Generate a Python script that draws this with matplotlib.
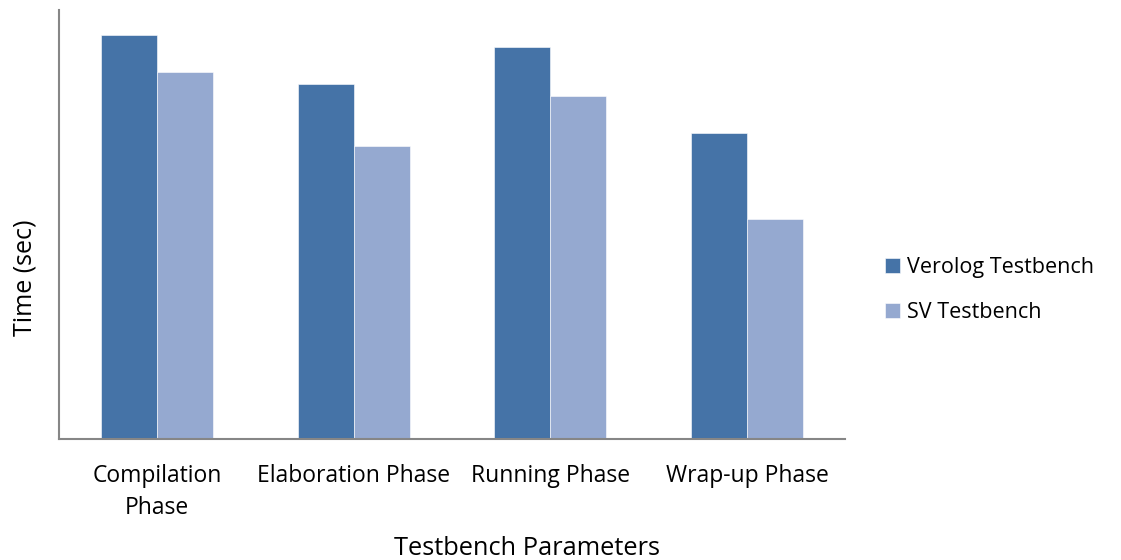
import numpy as np
import matplotlib.pyplot as plt

plt.rcParams['font.family'] = ['Open Sans', 'DejaVu Sans']

categories = ['Compilation\nPhase', 'Elaboration Phase', 'Running Phase', 'Wrap-up Phase']
verilog = [40.4, 35.5, 39.2, 30.6]
sv = [36.7, 29.3, 34.3, 22.0]
series_names = ['Verolog Testbench', 'SV Testbench']

fig = plt.figure(figsize=(11.21, 5.60), dpi=100)
ax = fig.add_axes([0.0526, 0.216, 0.7014, 0.766])

x = np.arange(len(categories))
w = 0.285
b1 = ax.bar(x - w/2, verilog, w, color='#4573A7', edgecolor='white', linewidth=0.4, label=series_names[0])
b2 = ax.bar(x + w/2, sv, w, color='#95A9D0', edgecolor='white', linewidth=0.4, label=series_names[1])

ax.set_xlim(-0.5, len(categories) - 0.5)
ax.set_ylim(0, 42.9)
ax.set_yticks([])
ax.set_xticks(x)
ax.set_xticklabels(categories, fontsize=16.5, linespacing=1.45)
ax.tick_params(axis='x', length=0, pad=18)
for s in ['top', 'right']:
    ax.spines[s].set_visible(False)
for s in ['left', 'bottom']:
    ax.spines[s].set_color('#868686')
    ax.spines[s].set_linewidth(1.5)

# Excel put the axis titles off-centre
ax.set_xlabel('Testbench Parameters', fontsize=18.3)
ax.xaxis.set_label_coords(0.595, -0.225)
ax.set_ylabel('Time (sec)', fontsize=18)
ax.yaxis.set_label_coords(-0.027, 0.375)

fig.legend(handles=[b1, b2], loc='center left', bbox_to_anchor=(0.772, 0.482),
           frameon=False, fontsize=15.5, handlelength=0.7, handleheight=0.7,
           handletextpad=0.35, labelspacing=1.15)

fig.savefig('out.png', dpi=100)
